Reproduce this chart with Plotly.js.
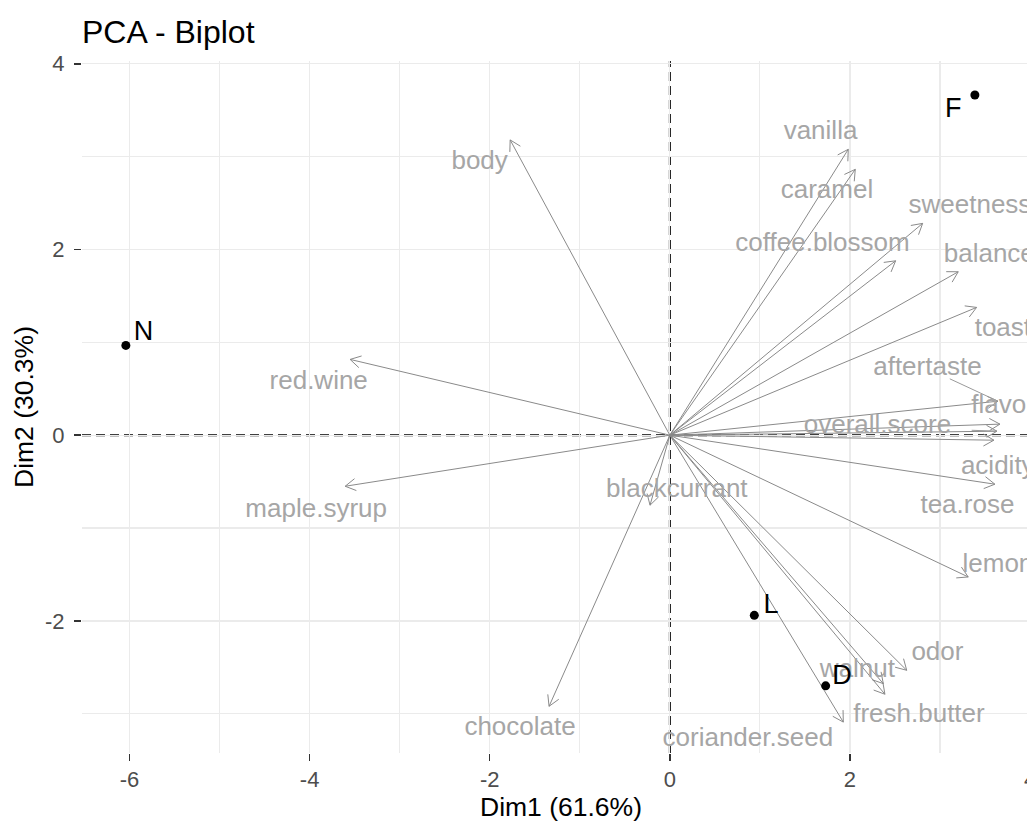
<!DOCTYPE html>
<html><head><meta charset="utf-8">
<script src="https://cdn.plot.ly/plotly-3.0.1.min.js"></script>
<style>html,body{margin:0;padding:0;overflow:hidden;background:#fff}#chart{width:1060px;height:824px}</style>
</head><body><div id="chart"></div>
<script>
// Individuals (rows)
const individuals = ['N', 'F', 'L', 'D'];
const indDim1 = [-6.04, 3.387, 0.938, 1.73];
const indDim2 = [0.967, 3.664, -1.94, -2.70];
const indLabelX = [-5.844, 3.147, 1.123, 1.911];
const indLabelY = [1.099, 3.505, -1.843, -2.608];

// Variables (arrows)
const variables = ['body','vanilla','caramel','coffee.blossom','sweetness','balance','toast','aftertaste','flavor','overall.score','acidity','tea.rose','lemon','odor','walnut','fresh.butter','coriander.seed','chocolate','blackcurrant','red.wine','maple.syrup'];
const varDim1 = [-1.773, 1.981, 2.059, 2.507, 2.807, 3.202, 3.406, 3.643, 3.665, 3.632, 3.598, 3.609, 3.313, 2.63, 2.37, 2.388, 1.926, -1.341, -0.22, -3.55, -3.605];
const varDim2 = [3.18, 3.079, 2.863, 1.878, 2.281, 1.76, 1.376, 0.366, 0.119, 0.043, -0.054, -0.528, -1.527, -2.532, -2.676, -2.79, -3.09, -2.92, -0.754, 0.816, -0.55];
const varLabelX = [-2.112, 1.673, 1.745, 1.695, 3.332, 3.547, 3.698, 2.86, 3.70, 2.305, 3.641, 3.304, 3.643, 2.971, 2.083, 2.766, 0.866, -1.663, 0.077, -3.899, -3.927];
const varLabelY = [2.942, 3.265, 2.622, 2.058, 2.46, 1.94, 1.139, 0.719, 0.305, 0.089, -0.348, -0.773, -1.401, -2.352, -2.532, -3.017, -3.279, -3.157, -0.593, 0.564, -0.816];
const repelled = ['aftertaste', 'overall.score'];

const xTicks = [-6, -4, -2, 0, 2, 4];
const xTickLabels = ['-6', '-4', '-2', '0', '2', '4'];
const yTicks = [-2, 0, 2, 4];
const yTickLabels = ['-2', '0', '2', '4'];
const xRange = [-6.527, 4.11];
const yRange = [-3.423, 4.03];

const FIG_W = 1060, FIG_H = 824;
const M = {l: 82, r: 20, t: 61, b: 71};
const PW = FIG_W - M.l - M.r, PH = FIG_H - M.t - M.b;
const sx = PW / (xRange[1] - xRange[0]);
const sy = PH / (yRange[1] - yRange[0]);

const FONT = 'Liberation Sans, Arial, Helvetica, sans-serif';
const LABEL_SIZE = 26;

// arrows: shafts + open heads computed in pixel space
const ax = [], ay = [];
const HEAD = 12, ANG = Math.PI / 6;
for (let i = 0; i < variables.length; i++) {
  const tx = varDim1[i], ty = varDim2[i];
  ax.push(0, tx, null); ay.push(0, ty, null);
  const a = Math.atan2(ty * sy, tx * sx);
  for (const s of [1, -1]) {
    const wx = tx - HEAD * Math.cos(a + s * ANG) / sx;
    const wy = ty - HEAD * Math.sin(a + s * ANG) / sy;
    if (s === 1) { ax.push(wx, tx); ay.push(wy, ty); }
    else { ax.push(wx, null); ay.push(wy, null); }
  }
}
// repel segments from label box edge to tip
const rx = [], ry = [];
repelled.forEach(name => {
  const i = variables.indexOf(name);
  const lx = varLabelX[i] * sx, ly = varLabelY[i] * sy;
  const tx = varDim1[i] * sx, ty = varDim2[i] * sy;
  const hw = name.length * LABEL_SIZE * 0.27 + 3, hh = LABEL_SIZE * 0.4;
  const dx = tx - lx, dy = ty - ly;
  const t = Math.min(Math.abs(hw / dx), Math.abs(hh / dy));
  rx.push((lx + dx * t) / sx, varDim1[i], null);
  ry.push((ly + dy * t) / sy, varDim2[i], null);
});

const traces = [
  {x: ax, y: ay, mode: 'lines', type: 'scatter', line: {color: '#8a8a8a', width: 1}, hoverinfo: 'skip', showlegend: false},
  {x: rx, y: ry, mode: 'lines', type: 'scatter', line: {color: '#9a9a9a', width: 1}, hoverinfo: 'skip', showlegend: false},
  {x: varLabelX, y: varLabelY, text: variables, mode: 'text', type: 'scatter', textposition: 'middle center',
   textfont: {family: FONT, size: LABEL_SIZE, color: '#a6a6a6'}, hoverinfo: 'skip', showlegend: false},
  {x: indDim1, y: indDim2, mode: 'markers', type: 'scatter', marker: {color: '#000', size: 9}, showlegend: false},
  {x: indLabelX, y: indLabelY, text: individuals, mode: 'text', type: 'scatter', textposition: 'middle center',
   textfont: {family: FONT, size: 27, color: '#000'}, hoverinfo: 'skip', showlegend: false}
];

const axisCommon = {
  showgrid: true, gridcolor: '#ebebeb', gridwidth: 1.3, zeroline: false, showline: false,
  ticks: 'outside', ticklen: 7, tickwidth: 1.5, tickcolor: '#333333',
  tickfont: {family: FONT, size: 22, color: '#4d4d4d'}
};
const minorGrid = {tickmode: 'linear', tick0: 1, dtick: 2, showgrid: true, gridcolor: '#ebebeb', gridwidth: 1.1, ticks: ''};

const layout = {
  width: FIG_W, height: FIG_H, margin: M,
  paper_bgcolor: '#fff', plot_bgcolor: '#fff',
  font: {family: FONT},
  title: {text: 'PCA - Biplot', x: 0, xref: 'paper', xanchor: 'left', y: 1 - 32 / FIG_H, yref: 'container', yanchor: 'middle',
          font: {family: FONT, size: 32, color: '#000'}},
  xaxis: Object.assign({}, axisCommon, {range: xRange, tickmode: 'array', tickvals: xTicks, ticktext: xTickLabels, ticklabelstandoff: 0,
    minor: minorGrid,
    title: {text: 'Dim1 (61.6%)', standoff: 2, font: {family: FONT, size: 26.5, color: '#000'}}}),
  yaxis: Object.assign({}, axisCommon, {range: yRange, tickmode: 'array', tickvals: yTicks, ticktext: yTickLabels, ticklabelstandoff: 5,
    minor: minorGrid,
    title: {text: 'Dim2 (30.3%)', standoff: 3, font: {family: FONT, size: 26.5, color: '#000'}}}),
  shapes: [
    {type: 'line', layer: 'below', xref: 'paper', x0: 0, x1: 1, yref: 'y', y0: 0, y1: 0, line: {color: '#000', width: 2, dash: '9px,5px'}},
    {type: 'line', layer: 'below', yref: 'paper', y0: 0, y1: 1, xref: 'x', x0: 0, x1: 0, line: {color: '#000', width: 2, dash: '9px,5px'}}
  ]
};

Plotly.newPlot('chart', traces, layout, {displayModeBar: false, staticPlot: true});
</script>
</body></html>
